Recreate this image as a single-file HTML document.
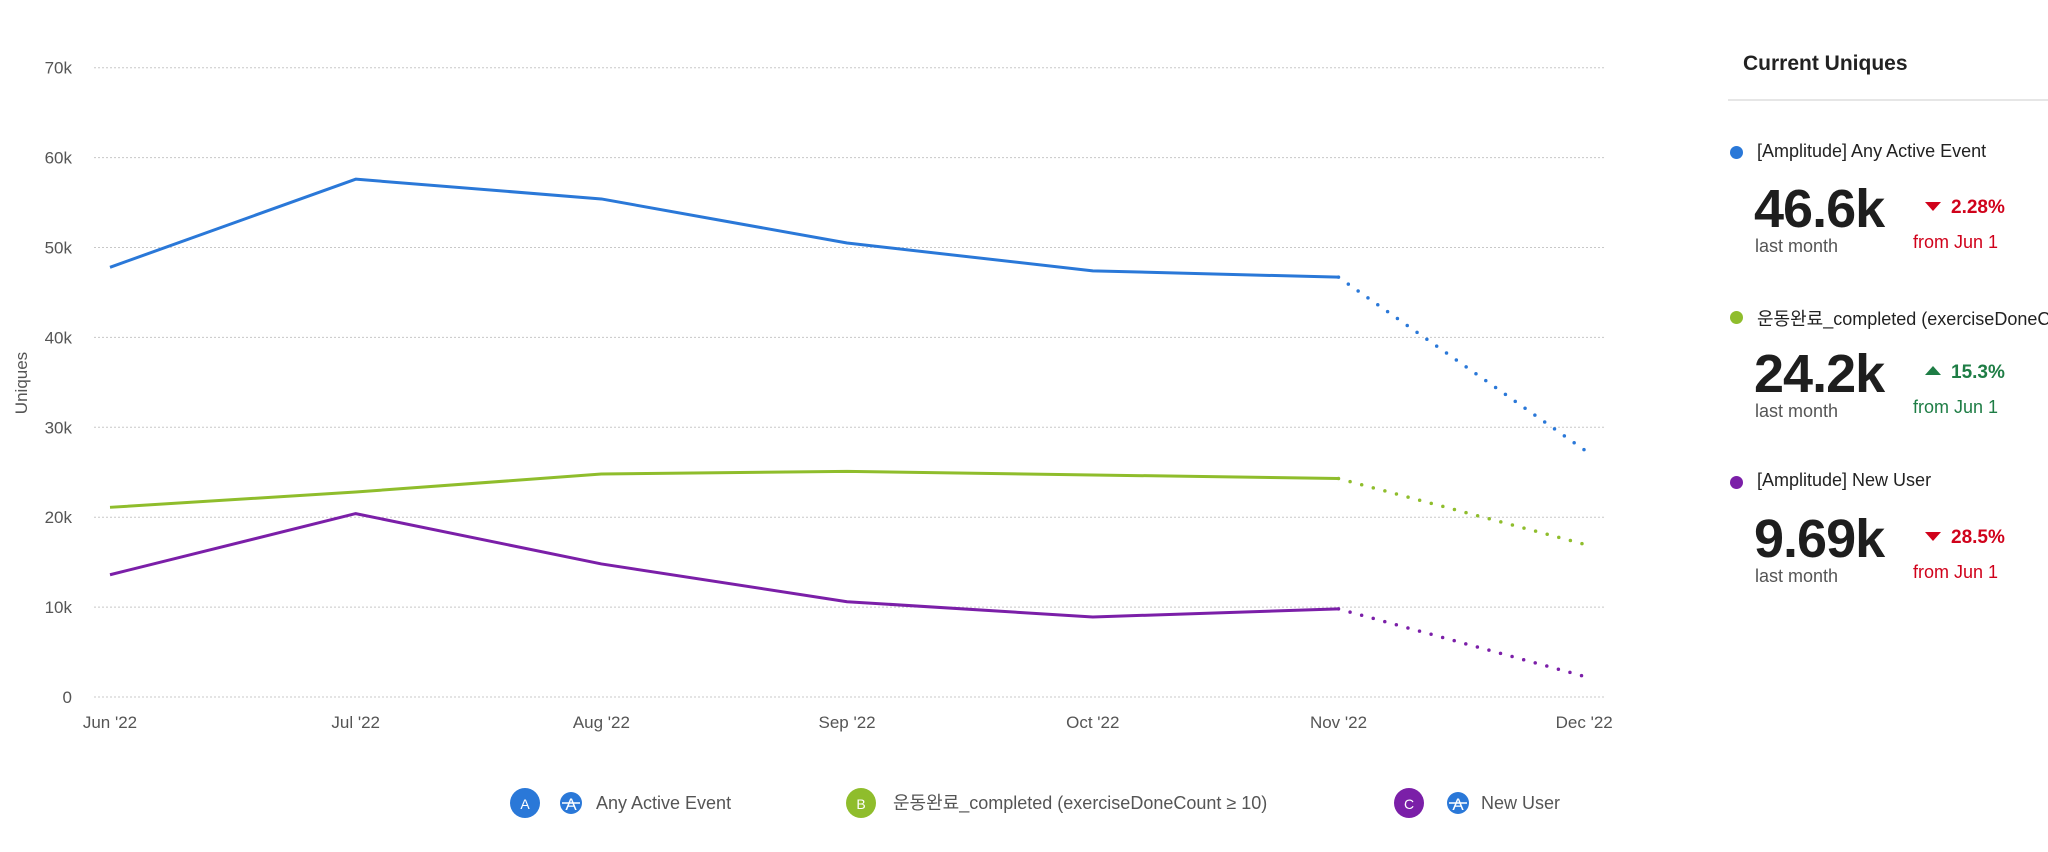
<!DOCTYPE html>
<html><head><meta charset="utf-8"><style>
body{margin:0;width:2048px;height:852px;background:#fff;overflow:hidden;font-family:"Liberation Sans","Noto Sans CJK KR",sans-serif;position:relative}
.abs{position:absolute;white-space:nowrap}
.ent-dot{position:absolute;width:13px;height:13px;border-radius:50%}
.big{font-size:54px;font-weight:bold;color:#1e1e1e;letter-spacing:-1px}
.sub{font-size:18px;color:#555}
.lbl{font-size:18px;color:#222}
</style></head><body>
<svg id="chart" width="1640" height="852" style="position:absolute;left:0;top:0" font-family="Liberation Sans, sans-serif"></svg>

<div class="abs" style="left:1743px;top:52px;font-size:21px;font-weight:bold;color:#222">Current Uniques</div>
<div class="abs" style="left:1728px;top:99px;width:320px;height:2px;background:#e6e6e6"></div>

<div>
<div class="ent-dot" style="left:1730px;top:146px;background:#2a78d8"></div>
<div class="abs lbl" style="left:1757px;top:141px">[Amplitude] Any Active Event</div>
<div class="abs big" style="left:1754px;top:178px">46.6k</div>
<div class="abs sub" style="left:1755px;top:236px">last month</div>
<div class="abs" style="left:1925px;top:202px;width:0;height:0;border-left:8px solid transparent;border-right:8px solid transparent;border-top:9px solid #d0021b"></div>
<div class="abs" style="left:1951px;top:197px;font-size:19px;font-weight:bold;color:#d0021b">2.28%</div>
<div class="abs" style="left:1913px;top:232px;font-size:18px;color:#d0021b">from Jun 1</div>
</div>

<div>
<div class="ent-dot" style="left:1730px;top:311px;background:#8fbd2c"></div>
<div class="abs lbl" style="left:1757px;top:305px">운동완료_completed (exerciseDoneCount ≥ 10)</div>
<div class="abs big" style="left:1754px;top:343px">24.2k</div>
<div class="abs sub" style="left:1755px;top:401px">last month</div>
<div class="abs" style="left:1925px;top:366px;width:0;height:0;border-left:8px solid transparent;border-right:8px solid transparent;border-bottom:9px solid #1e7d45"></div>
<div class="abs" style="left:1951px;top:362px;font-size:19px;font-weight:bold;color:#1e7d45">15.3%</div>
<div class="abs" style="left:1913px;top:397px;font-size:18px;color:#1e7d45">from Jun 1</div>
</div>

<div>
<div class="ent-dot" style="left:1730px;top:476px;background:#7b1fa8"></div>
<div class="abs lbl" style="left:1757px;top:470px">[Amplitude] New User</div>
<div class="abs big" style="left:1754px;top:508px">9.69k</div>
<div class="abs sub" style="left:1755px;top:566px">last month</div>
<div class="abs" style="left:1925px;top:532px;width:0;height:0;border-left:8px solid transparent;border-right:8px solid transparent;border-top:9px solid #d0021b"></div>
<div class="abs" style="left:1951px;top:527px;font-size:19px;font-weight:bold;color:#d0021b">28.5%</div>
<div class="abs" style="left:1913px;top:562px;font-size:18px;color:#d0021b">from Jun 1</div>
</div>

<script>
const categories=["Jun '22","Jul '22","Aug '22","Sep '22","Oct '22","Nov '22","Dec '22"];
const seriesA=[47.8,57.6,55.4,50.5,47.4,46.7,27.5];
const seriesB=[21.1,22.8,24.8,25.1,24.7,24.3,17.0];
const seriesC=[13.6,20.4,14.8,10.6,8.9,9.8,2.3];
const yTicks=[0,10,20,30,40,50,60,70];
const yTickLabels=["0","10k","20k","30k","40k","50k","60k","70k"];
const legendNames=["Any Active Event","운동완료_completed (exerciseDoneCount ≥ 10)","New User"];

const NS="http://www.w3.org/2000/svg";
const svg=document.getElementById('chart');
const X0=110,XS=245.7,Y0=697,YS=8.99;
const xAt=i=>X0+i*XS;
const yAt=v=>Y0-v*YS;
function mk(t,a,p){const e=document.createElementNS(NS,t);for(const k in a)e.setAttribute(k,a[k]);(p||svg).appendChild(e);return e;}

yTicks.forEach((v,i)=>{
  const g=mk('line',{x1:94,x2:1606,y1:yAt(v),y2:yAt(v),stroke:'#c8c8c8','stroke-width':1,'stroke-dasharray':'2,2'});
  
  
  const t=mk('text',{x:72,y:yAt(v)+6,'text-anchor':'end','font-size':17,fill:'#555'});
  t.textContent=yTickLabels[i];
  
  
});
categories.forEach((c,i)=>{
  const t=mk('text',{x:xAt(i),y:728,'text-anchor':'middle','font-size':17,fill:'#555'});
  t.textContent=c;
  
  
});
const yt=mk('text',{x:0,y:0,transform:'translate(27,383) rotate(-90)','text-anchor':'middle','font-size':17,fill:'#555'});
yt.textContent='Uniques';



function drawSeries(vals,color,name){
  const n=vals.length;
  const solid=vals.slice(0,n-1).map((v,i)=>xAt(i)+','+yAt(v)).join(' ');
  const l=mk('polyline',{points:solid,fill:'none',stroke:color,'stroke-width':3,'stroke-linejoin':'round'});
  
  
  const d=mk('line',{x1:xAt(n-2),y1:yAt(vals[n-2]),x2:xAt(n-1),y2:yAt(vals[n-1]),stroke:color,'stroke-width':3.5,'stroke-dasharray':'0,12','stroke-linecap':'round'});
  
  
}
drawSeries(seriesA,'#2a78d8','any-active-event');
drawSeries(seriesB,'#8fbd2c','exercise-completed');
drawSeries(seriesC,'#7b1fa8','new-user');

// legend
const legend=[{cx:525,c:'#2a78d8',L:'A',icon:571,tx:596},{cx:861,c:'#8fbd2c',L:'B',icon:null,tx:893},{cx:1409,c:'#7b1fa8',L:'C',icon:1458,tx:1481}];
legend.forEach((e,i)=>{
  const g=mk('g',{});
  
  
  mk('circle',{cx:e.cx,cy:803,r:15,fill:e.c},g);
  const lt=mk('text',{x:e.cx,y:809,'text-anchor':'middle','font-size':14,fill:'#fff'},g);lt.textContent=e.L;
  if(e.icon){
    mk('circle',{cx:e.icon,cy:803,r:11,fill:'#2a78d8'},g);
    const it=mk('text',{x:e.icon,y:810,'text-anchor':'middle','font-size':17,fill:'#fff'},g);it.textContent='A';
    mk('line',{x1:e.icon-9,x2:e.icon+9,y1:803,y2:803,stroke:'#fff','stroke-width':1.5},g);
  }
  const t=mk('text',{x:e.tx,y:809,'font-size':18,fill:'#555','font-family':'Liberation Sans, Noto Sans CJK KR, sans-serif'},g);
  t.textContent=legendNames[i];
});
</script>
</body></html>
